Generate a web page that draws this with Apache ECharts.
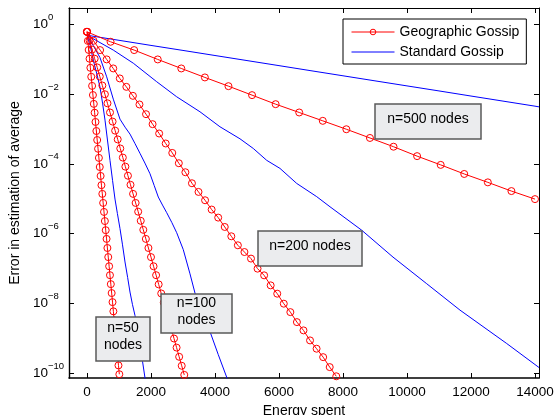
<!DOCTYPE html>
<html><head><meta charset="utf-8">
<script src="https://cdn.jsdelivr.net/npm/echarts@6/dist/echarts.min.js"></script>
<style>html,body{margin:0;padding:0;background:#fff}#c{width:559px;height:415px}</style>
</head><body><div id="c"></div>
<script>
// ---- data ----
const xTickValues = [0, 2000, 4000, 6000, 8000, 10000, 12000, 14000];
const yTickValues = [1e-10, 1e-8, 1e-6, 1e-4, 1e-2, 1];
const legendNames = ['Geographic Gossip', 'Standard Gossip'];

// Geographic Gossip (red, markers)
const geo50E = [0,27,53,80,106,133,160,186,213,239,266,293,319,346,372,399,426,452,479,505,532,559,585,612,638,665,692,718,745,771,798,825,851,878,904,931,958,984,1011];
const geo50V = [0.60,0.33,0.182,0.102,0.056,0.031,0.017,9.3e-3,5.2e-3,2.9e-3,1.58e-3,8.7e-4,4.8e-4,2.7e-4,1.48e-4,8.1e-5,4.5e-5,2.45e-5,1.38e-5,7.6e-6,4.2e-6,2.3e-6,1.26e-6,7.1e-7,3.9e-7,2.14e-7,1.17e-7,6.5e-8,3.6e-8,2.0e-8,1.1e-8,6.0e-9,3.3e-9,1.86e-9,1.02e-9,5.6e-10,3.1e-10,1.7e-10,9.5e-11];
const geo100E = [0,80,160,240,320,400,480,560,640,720,800,880,960,1040,1120,1200,1280,1360,1440,1520,1600,1680,1760,1840,1920,2000,2080,2160,2240,2320,2400,2480,2560,2640,2720,2800,2880,2960,3040];
const geo100V = [0.60,0.34,0.186,0.102,0.0575,0.0316,0.0174,9.8e-3,5.4e-3,2.95e-3,1.62e-3,8.9e-4,5.0e-4,2.75e-4,1.51e-4,8.3e-5,4.57e-5,2.51e-5,1.38e-5,7.6e-6,4.27e-6,2.34e-6,1.29e-6,7.1e-7,3.9e-7,2.14e-7,1.17e-7,6.5e-8,3.55e-8,1.95e-8,1.07e-8,6.0e-9,3.3e-9,1.82e-9,1.0e-9,5.5e-10,3.0e-10,1.66e-10,9.1e-11];
const geo200E = [0,205,410,615,820,1025,1230,1435,1640,1845,2050,2255,2460,2665,2870,3075,3280,3485,3690,3895,4100,4305,4510,4715,4920,5125,5330,5535,5740,5945,6150,6355,6560,6765,6970,7175,7380,7585,7790];
const geo200V = [0.6026,0.3327,0.1799,0.0975,0.0538,0.0278,0.01596,8.83e-3,5.0e-3,2.636e-3,1.365e-3,7.38e-4,3.82e-4,2.05e-4,1.04e-4,5.74e-5,2.78e-5,1.57e-5,9.06e-6,4.91e-6,2.89e-6,1.56e-6,8.43e-7,4.66e-7,2.99e-7,1.94e-7,1.0e-7,6.43e-8,3.32e-8,1.92e-8,9.93e-9,5.7e-9,2.95e-9,1.71e-9,8.83e-10,5.11e-10,2.93e-10,1.52e-10,8.3e-11];
const geo500E = [0,737,1474,2211,2947,3684,4421,5158,5895,6632,7368,8105,8842,9579,10316,11053,11789,12526,13263,14000];
const geo500V = [0.60,0.311,0.180,0.0973,0.0537,0.0297,0.0167,9.25e-3,5.1e-3,2.95e-3,1.7e-3,9.77e-4,5.5e-4,3.09e-4,1.66e-4,9.33e-5,5.13e-5,2.95e-5,1.66e-5,9.77e-6];

// Standard Gossip (blue, plain lines)
const std50E = [0,100,197,300,406,490,563,640,719,800,875,950,1031,1110,1188,1270,1344,1420,1500,1580,1656,1735,1813,1900];
const std50V = [0.479,0.240,0.0933,0.0398,0.0158,5.2e-3,1.78e-3,4.8e-4,1.26e-4,3.3e-5,9.8e-6,3.8e-6,1.41e-6,4.8e-7,1.55e-7,5.6e-8,2.14e-8,9.5e-9,4.57e-9,1.78e-9,6.3e-10,2.24e-10,7.4e-11,2.5e-11];
const std100E = [0,200,406,616,822,1031,1190,1344,1500,1656,1810,1969,2100,2228,2360,2491,2650,2803,3009,3219,3375,3600,3844,4100,4366,4450];
const std100V = [0.479,0.240,0.110,0.0309,7.1e-3,1.9e-3,1.12e-3,7.1e-4,3.8e-4,2.0e-4,1.05e-4,5.2e-5,2.4e-5,1.12e-5,6.6e-6,4.0e-6,2.1e-6,1.07e-6,3.5e-7,7.1e-8,2.0e-8,5.2e-9,1.58e-9,3.5e-10,7.8e-11,4.5e-11];
const std200E = [0,822,1447,2178,2803,3531,4156,4781,5197,5616,6031,6553,7178,7594,8584,9563,10616,11656,13116,14125];
const std200V = [0.479,0.180,0.0759,0.0224,8.3e-3,3.09e-3,1.15e-3,5.2e-4,2.75e-4,1.26e-4,7.4e-5,2.75e-5,1.15e-5,5.9e-6,1.26e-6,2.14e-7,3.7e-8,6.5e-9,7.2e-10,1.48e-10];
const std500E = [0,1000,2000,3000,4000,5000,6000,7000,8000,9000,10000,11000,12000,13000,14000,14125];
const std500V = [0.479,0.343,0.245,0.176,0.126,0.0902,0.0646,0.0462,0.0331,0.0237,0.0170,0.0122,8.71e-3,6.24e-3,4.47e-3,4.27e-3];

const annotations = [
  {text: 'n=500 nodes', x: 375, y: 104, w: 106, h: 35},
  {text: 'n=200 nodes', x: 258, y: 231, w: 104, h: 35},
  {text: 'n=100\nnodes', x: 161, y: 294, w: 71, h: 39},
  {text: 'n=50\nnodes', x: 96, y: 317, w: 54, h: 44}
];

// ---- chart ----
const FONT = '"Liberation Sans", Arial, Helvetica, sans-serif';
const pairs = (E, V) => E.map((e, i) => [e, V[i]]);
const geoSeries = (E, V) => ({
  name: legendNames[0], type: 'line', data: pairs(E, V), z: 3,
  symbol: 'circle', symbolSize: 7, showAllSymbol: true,
  lineStyle: {color: '#ff0000', width: 1},
  itemStyle: {color: 'rgba(255,255,255,0)', borderColor: '#ff0000', borderWidth: 1},
  emphasis: {disabled: true}, animation: false
});
const stdSeries = (E, V) => ({
  name: legendNames[1], type: 'line', data: pairs(E, V), z: 2,
  symbol: 'none', lineStyle: {color: '#0000ff', width: 1},
  itemStyle: {color: '#0000ff'}, emphasis: {disabled: true}, animation: false
});

const yFmt = v => {
  const l = Math.log10(v), p = Math.round(l);
  if (Math.abs(l - p) > 1e-6) return '';
  return '{b|10}{e|' + (p < 0 ? '\u2212' + (-p) : p) + '}';
};
const xFmt = v => (Math.abs(v % 2000) < 1e-6 && v >= 0) ? String(v) : '';

const axLine = (w) => ({show: true, onZero: false, lineStyle: {color: '#000', width: w}});
const tick = (vals) => ({show: true, inside: true, length: 5, lineStyle: {color: '#000', width: 1}, customValues: vals});

const chart = echarts.init(document.getElementById('c'), null, {renderer: 'canvas'});
chart.setOption({
  animation: false,
  backgroundColor: '#fff',
  grid: {left: 69, top: 8, width: 470, height: 370, containLabel: false, outerBoundsMode: 'none'},
  legend: {
    data: [
      {name: legendNames[0], itemStyle: {color: 'rgba(255,255,255,0)', borderColor: '#ff0000', borderWidth: 1}, lineStyle: {color: '#ff0000', width: 1}},
      {name: legendNames[1], itemStyle: {opacity: 0}, lineStyle: {color: '#0000ff', width: 1}}
    ],
    orient: 'vertical', left: 343, top: 19,
    itemWidth: 43, itemHeight: 7, itemGap: 6,
    padding: [6, 7, 5, 8], borderColor: '#000', borderWidth: 1, backgroundColor: '#fff',
    textStyle: {fontFamily: FONT, fontSize: 14, color: '#000'},
    selectedMode: false
  },
  xAxis: [
    {type: 'value', min: -562, max: 14125, splitNumber: 7, position: 'bottom',
     axisLine: axLine(1.6), axisTick: tick(xTickValues), splitLine: {show: false},
     axisLabel: {customValues: xTickValues, formatter: xFmt, margin: 7, color: '#000', fontFamily: FONT, fontSize: 13.5},
     name: 'Energy spent', nameLocation: 'middle', nameGap: 20,
     nameTextStyle: {fontFamily: FONT, fontSize: 14, color: '#000'}},
    {type: 'value', min: -562, max: 14125, splitNumber: 7, position: 'top',
     axisLine: axLine(1), axisTick: tick(xTickValues), splitLine: {show: false}, axisLabel: {show: false}}
  ],
  yAxis: [
    {type: 'log', logBase: 10, min: Math.pow(10, -10.13), max: Math.pow(10, 0.46), position: 'left',
     axisLine: axLine(1.4), axisTick: tick(yTickValues), splitLine: {show: false}, minorTick: {show: false},
     axisLabel: {customValues: yTickValues, formatter: yFmt, align: 'left', margin: 36, color: '#000',
       rich: {
         b: {fontFamily: FONT, fontSize: 13.5, lineHeight: 24, verticalAlign: 'middle', color: '#000'},
         e: {fontFamily: FONT, fontSize: 9.5, lineHeight: 11, verticalAlign: 'top', color: '#000'}
       }},
     name: 'Error in estimation of average', nameLocation: 'middle', nameGap: 40, nameRotate: 90,
     nameTextStyle: {fontFamily: FONT, fontSize: 14, color: '#000'}},
    {type: 'log', logBase: 10, min: Math.pow(10, -10.13), max: Math.pow(10, 0.46), position: 'right',
     axisLine: axLine(1), axisTick: tick(yTickValues), splitLine: {show: false}, axisLabel: {show: false}}
  ],
  series: [
    stdSeries(std50E, std50V), stdSeries(std100E, std100V), stdSeries(std200E, std200V), stdSeries(std500E, std500V),
    geoSeries(geo50E, geo50V), geoSeries(geo100E, geo100V), geoSeries(geo200E, geo200V), geoSeries(geo500E, geo500V)
  ],
  graphic: annotations.map(a => ({
    type: 'group', z: 100, children: [
      {type: 'rect', shape: {x: a.x, y: a.y, width: a.w, height: a.h},
       style: {fill: '#ebecee', stroke: '#5a5a5a', lineWidth: 1.5}, z: 100},
      {type: 'text', x: a.x + a.w / 2, y: a.y + a.h / 2 - 2, z: 101,
       style: {text: a.text, align: 'center', verticalAlign: 'middle', font: '14px ' + FONT, lineHeight: 17, fill: '#000'}}
    ]
  }))
});
</script></body></html>
